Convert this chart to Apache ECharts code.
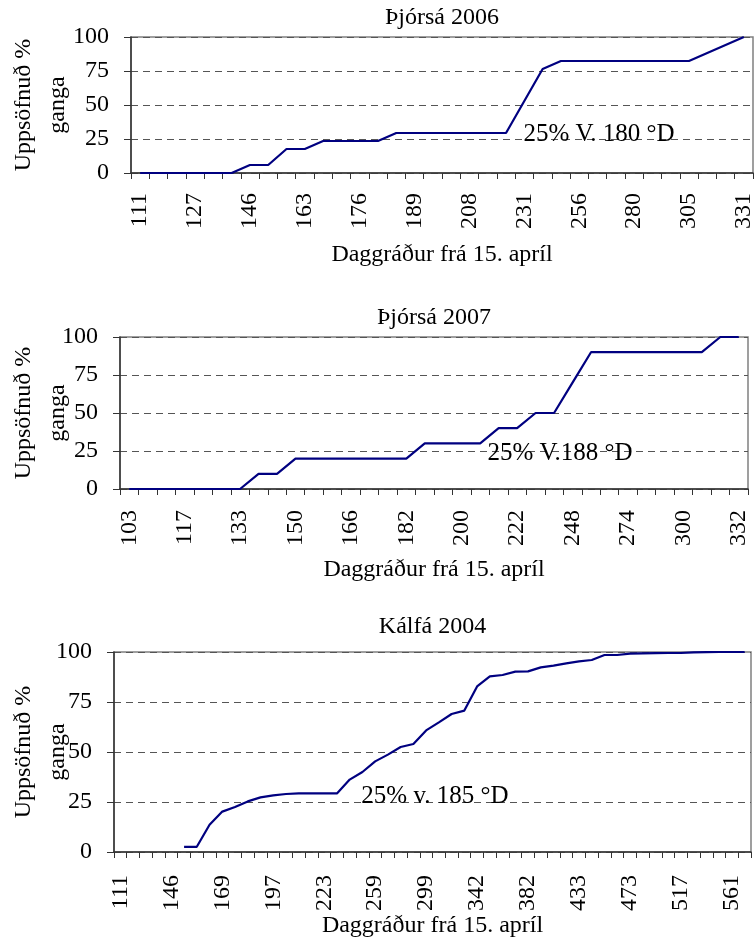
<!DOCTYPE html>
<html>
<head>
<meta charset="utf-8">
<script src="https://cdn.jsdelivr.net/npm/echarts@6/dist/echarts.min.js"></script>
<style>
html,body{margin:0;padding:0;background:#fff;}
#chart{width:754px;height:943px;}
</style>
</head>
<body>
<div id="chart"></div>
<script>
// ---- Data ----
const titles = ['Þjórsá 2006', 'Þjórsá 2007', 'Kálfá 2004'];
const notes = ['25% V. 180 °D', '25% V.188 °D', '25% v. 185 °D'];
const yName = 'Uppsöfnuð %\nganga';
const xName = 'Daggráður frá 15. apríl';
const yTicks = [0, 25, 50, 75, 100];

const cats2006 = [111,116,122,127,133,140,146,152,157,163,167,172,176,180,185,189,195,202,208,216,224,231,239,248,256,264,272,280,288,297,305,314,322,331];
const vals2006 = [0,0,0,0,0,0,5.88,5.88,17.65,17.65,23.53,23.53,23.53,23.53,29.41,29.41,29.41,29.41,29.41,29.41,29.41,52.94,76.47,82.35,82.35,82.35,82.35,82.35,82.35,82.35,82.35,88.24,94.12,100];

const cats2007 = [103,108,112,117,122,128,133,139,144,150,155,161,166,171,177,182,188,194,200,207,214,222,230,239,248,257,265,274,283,291,300,311,321,332];
const vals2007 = [0,0,0,0,0,0,0,10,10,20,20,20,20,20,20,20,30,30,30,30,40,40,50,50,70,90,90,90,90,90,90,90,100,100];

const cats2004 = [111,120,128,137,146,152,158,163,169,176,183,190,197,203,210,216,223,232,241,250,259,269,279,289,299,310,321,331,342,352,362,372,382,395,408,420,433,443,453,463,473,484,495,506,517,528,539,550,561,572];
const vals2004 = [null,null,null,null,null,2.6,2.6,13.6,20.2,22.5,25.3,27.3,28.3,29,29.3,29.3,29.3,29.3,36.2,40,45.3,48.7,52.5,54,60.8,64.8,69,70.7,82.8,87.8,88.5,90.2,90.3,92.3,93.2,94.3,95.3,96,98.5,98.5,99.2,99.3,99.4,99.5,99.5,99.8,99.9,100,100,100];

// ---- Build ----
const FONT = '"Liberation Serif","Times New Roman",serif';
const FS = 24;
const grids = [
  {left:131, right:1, top:37, height:136},
  {left:120, right:6, top:337, height:152},
  {left:114, right:3, top:652, height:200}
];
const catsList = [cats2006, cats2007, cats2004];
const valsList = [vals2006, vals2007, vals2004];
const labelInterval = [2, 2, 3];
const labelMargins = [20, 21, 23];
const nameGaps = [70, 69, 62];

const xAxes = [], yAxes = [], series = [];
for (let k = 0; k < 3; k++) {
  xAxes.push({
    type:'category', gridIndex:k, data:catsList[k].map(String), boundaryGap:true,
    name:xName, nameLocation:'middle', nameGap:nameGaps[k], nameMoveOverlap:false,
    nameTextStyle:{fontFamily:FONT, fontSize:FS, color:'#000'},
    axisLine:{show:true, lineStyle:{color:'#333', width:1.5}},
    axisTick:{show:true, interval:0, length:6, inside:false, lineStyle:{color:'#333', width:1}},
    axisLabel:{interval:labelInterval[k], rotate:90, margin:labelMargins[k], fontFamily:FONT, fontSize:FS, color:'#000'},
    splitLine:{show:false}
  });
  yAxes.push({
    type:'value', gridIndex:k, min:yTicks[0], max:yTicks[yTicks.length-1], interval:25,
    axisLine:{show:true, lineStyle:{color:'#333', width:1.5}},
    axisTick:{show:true, length:7, lineStyle:{color:'#333', width:1}},
    axisLabel:{margin:22, fontFamily:FONT, fontSize:FS, color:'#000'},
    splitLine:{show:true, lineStyle:{color:'#555', width:1, type:[7,5]}}
  });
  series.push({
    type:'line', xAxisIndex:k, yAxisIndex:k, data:valsList[k],
    showSymbol:false, symbol:'none', connectNulls:false,
    lineStyle:{color:'#000080', width:2.2}, silent:true, animation:false
  });
}

const plotCenterX = grids.map(g => g.left + (754 - g.left - g.right) / 2);
const graphic = [];
const titleY = [18, 318, 627];
const yNameY = [105, 413, 752];
const notePos = [[599,134],[560,453],[435,796]];
for (let k = 0; k < 3; k++) {
  graphic.push({type:'text', x:plotCenterX[k], y:titleY[k], silent:true,
    style:{text:titles[k], textAlign:'center', textVerticalAlign:'middle', font:FS+'px '+FONT, fill:'#000'}});
  graphic.push({type:'text', x:41, y:yNameY[k], rotation:Math.PI/2, silent:true,
    style:{text:yName, textAlign:'center', textVerticalAlign:'middle', font:FS+'px '+FONT, lineHeight:34, fill:'#000'}});
  graphic.push({type:'text', x:notePos[k][0], y:notePos[k][1], silent:true, z:100,
    style:{text:notes[k], textAlign:'center', textVerticalAlign:'middle', font:'25px '+FONT, fill:'#000'}});
}

const chart = echarts.init(document.getElementById('chart'), null, {renderer:'canvas'});
chart.setOption({
  animation:false,
  backgroundColor:'#fff',
  grid: grids.map(g => Object.assign({show:true, borderColor:'#808080', borderWidth:1.5, backgroundColor:'transparent', containLabel:false, outerBoundsMode:'none'}, g)),
  xAxis: xAxes,
  yAxis: yAxes,
  series: series,
  graphic: graphic
});
</script>
</body>
</html>
